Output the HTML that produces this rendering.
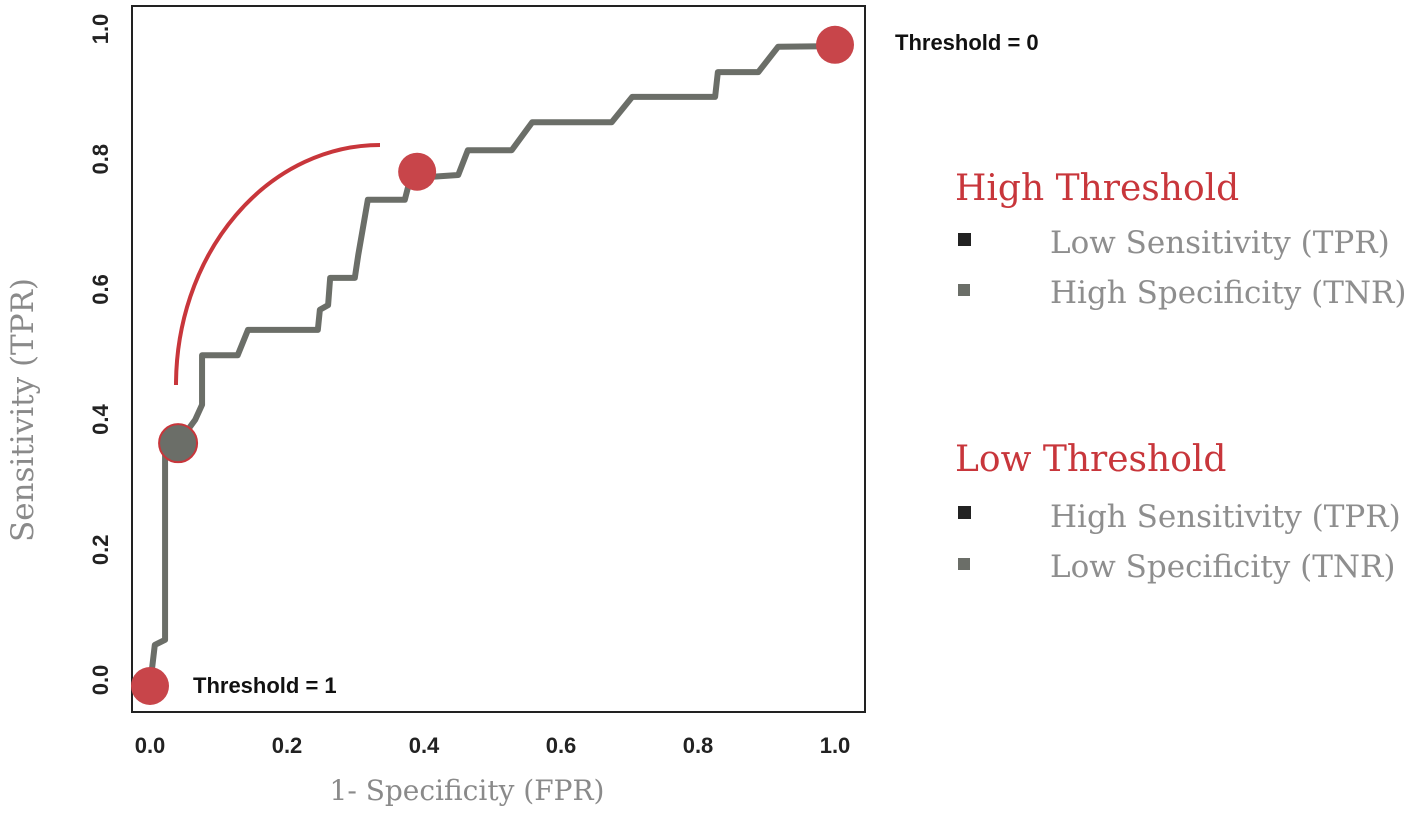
<!DOCTYPE html>
<html><head><meta charset="utf-8"><style>
html,body{margin:0;padding:0;background:#fff;}
svg{display:block;}
.tick{font-family:"Liberation Sans",sans-serif;font-weight:bold;font-size:22px;fill:#222;}
.ax{font-family:"DejaVu Serif","Liberation Serif",serif;font-size:28px;fill:#8a8a8a;}
.ay{font-family:"DejaVu Serif","Liberation Serif",serif;font-size:31px;fill:#8a8a8a;}
.lg{font-family:"DejaVu Serif","Liberation Serif",serif;font-size:31px;fill:#8e8e8e;}
.lh{font-family:"DejaVu Serif","Liberation Serif",serif;font-size:36px;fill:#c8363b;}
.th{font-family:"Liberation Sans",sans-serif;font-weight:bold;font-size:22px;fill:#111;}
</style></head><body>
<svg id="c" width="1418" height="815" viewBox="0 0 1418 815" xmlns="http://www.w3.org/2000/svg">
<rect x="132" y="6" width="733" height="706" fill="#fff" stroke="#222" stroke-width="2"/>
<g id="ticks"></g>
<path d="M176,385 A204,240 0 0,1 380,145" fill="none" stroke="#c8363b" stroke-width="4"/>
<polyline id="roc" fill="none" stroke="#6b6e68" stroke-width="6" stroke-linejoin="round"/>
<g id="pts"></g>
<text class="th" x="895" y="50">Threshold = 0</text>
<text class="th" x="193" y="693">Threshold = 1</text>
<text class="ax" x="467" y="800" text-anchor="middle">1- Specificity (FPR)</text>
<text class="ay" transform="translate(33,410) rotate(-90)" text-anchor="middle">Sensitivity (TPR)</text>
<g>
<text class="lh" x="955" y="200">High Threshold</text>
<rect x="958" y="233" width="13" height="13" fill="#222"/>
<text class="lg" x="1050" y="253">Low Sensitivity (TPR)</text>
<rect x="958" y="284" width="12" height="12" fill="#6b6e68"/>
<text class="lg" x="1050" y="303">High Specificity (TNR)</text>
<text class="lh" x="955" y="471">Low Threshold</text>
<rect x="958" y="506" width="13" height="13" fill="#222"/>
<text class="lg" x="1050" y="527">High Sensitivity (TPR)</text>
<rect x="958" y="558" width="12" height="12" fill="#6b6e68"/>
<text class="lg" x="1050" y="577">Low Specificity (TNR)</text>
</g>
</svg>
<script>
const fpr=[0,0.007,0.022,0.022,0.041,0.066,0.076,0.076,0.128,0.143,0.245,0.248,0.26,0.263,0.299,0.304,0.318,0.372,0.38,0.45,0.464,0.528,0.558,0.674,0.704,0.825,0.829,0.888,0.917,1.0];
const tpr=[0,0.063,0.071,0.37,0.373,0.409,0.432,0.508,0.508,0.547,0.547,0.578,0.585,0.627,0.627,0.662,0.747,0.747,0.78,0.785,0.823,0.823,0.866,0.866,0.905,0.905,0.943,0.943,0.982,0.983];
const tickVals=[0,0.2,0.4,0.6,0.8,1.0];
const tickLabels=["0.0","0.2","0.4","0.6","0.8","1.0"];
const markerX=[0,0.39,1.0,0.041];
const markerY=[0,0.79,0.985,0.373];
const markerKind=["red","red","red","gray"];
const NS="http://www.w3.org/2000/svg";
function sx(v){return 150+v*685;}
function sy(v){return 686-v*651;}
document.getElementById('roc').setAttribute('points',fpr.map((f,i)=>sx(f)+','+sy(tpr[i])).join(' '));
const tg=document.getElementById('ticks');
tickVals.forEach((v,i)=>{
  const t=document.createElementNS(NS,'text');
  t.setAttribute('class','tick');t.setAttribute('x',sx(v));t.setAttribute('y',753);t.setAttribute('text-anchor','middle');
  t.textContent=tickLabels[i];
  
  
  tg.appendChild(t);
  const u=document.createElementNS(NS,'text');
  u.setAttribute('class','tick');u.setAttribute('text-anchor','middle');
  u.setAttribute('transform','translate(108,'+(sy(v)-6)+') rotate(-90)');
  u.textContent=tickLabels[i];
  
  
  tg.appendChild(u);
});
const pg=document.getElementById('pts');
markerX.forEach((x,i)=>{
  const c=document.createElementNS(NS,'circle');
  c.setAttribute('cx',sx(x));c.setAttribute('cy',sy(markerY[i]));c.setAttribute('r',19);
  c.setAttribute('fill',markerKind[i]==='red'?'#c8454a':'#6b6e68');
  c.setAttribute('stroke','#c8363b');c.setAttribute('stroke-width',markerKind[i]==='red'?0:2);
  
  
  pg.appendChild(c);
});
</script>
</body></html>
